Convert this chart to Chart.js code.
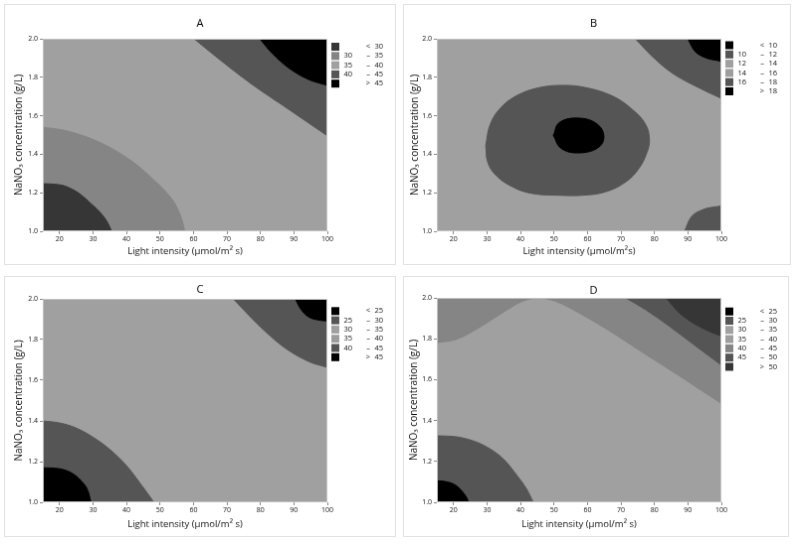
<!DOCTYPE html>
<html>
<head>
<meta charset="utf-8">
<script src="https://cdn.jsdelivr.net/npm/chart.js@4.4.0/dist/chart.umd.min.js"></script>
<style>
  body { margin: 0; background: #fff; width: 797px; height: 544px; position: relative; overflow: hidden; }
  canvas { position: absolute; border: 1px solid #e2e2e2; }
</style>
</head>
<body>
<canvas id="cA" width="392" height="261" style="left:4px;top:4px"></canvas>
<canvas id="cB" width="388" height="261" style="left:403px;top:4px"></canvas>
<canvas id="cC" width="392" height="261" style="left:4px;top:276px"></canvas>
<canvas id="cD" width="386" height="261" style="left:403px;top:276px"></canvas>
<script>
// axes
const xTicks = [20, 30, 40, 50, 60, 70, 80, 90, 100];
const yTicks = [1.0, 1.2, 1.4, 1.6, 1.8, 2.0];
const xRange = [15, 100];
const yRange = [1.0, 2.0];

// contour boundaries, [light intensity, NaNO3]
// A
const a30 = [[15,1.247],[18,1.245],[21,1.238],[23,1.225],[26,1.195],[29,1.15],[32,1.1],[34.2,1.05],[35.6,1.0]];
const a35 = [[15,1.54],[22,1.522],[32,1.462],[42,1.359],[48.8,1.256],[52.5,1.19],[54.7,1.136],[56.7,1.05],[57.4,1.0]];
const a40 = [[60.2,2.0],[66.6,1.909],[77.5,1.763],[88.4,1.634],[100,1.496]];
const a45 = [[79.8,2.0],[83.4,1.926],[88.4,1.849],[94.3,1.789],[100,1.758]];
// B
const b16ring = [[29.6,1.445],[30.8,1.548],[33.7,1.634],[38.7,1.703],[45.6,1.746],[53.0,1.758],[59.5,1.746],[67.4,1.703],
  [73.3,1.634],[77.3,1.557],[78.5,1.479],[77.8,1.411],[75.3,1.325],[71.4,1.256],[65.4,1.205],[58.5,1.187],[51.6,1.187],
  [43.6,1.196],[37.7,1.23],[32.7,1.29],[30.2,1.359],[29.6,1.445]];
const b18core = [[49.8,1.498],[51.6,1.565],[57.5,1.588],[62.9,1.557],[64.9,1.496],[63.4,1.437],[57.5,1.407],[52.1,1.431],[49.8,1.498]];
const b16top = [[74.3,2.0],[79.3,1.909],[85.2,1.823],[93.2,1.746],[100,1.69]];
const b18top = [[90.0,2.0],[91.7,1.943],[94.6,1.906],[100,1.883]];
const b16low = [[89.0,1.0],[90.7,1.067],[94.1,1.11],[100,1.132]];
// C
const c30 = [[15,1.40],[20,1.39],[25,1.365],[30,1.32],[35,1.26],[40,1.18],[44,1.095],[48.2,1.0]];
const c25 = [[15,1.17],[20,1.165],[23.5,1.145],[26.5,1.105],[28.5,1.055],[29.4,1.0]];
const c40 = [[71.9,2.0],[76.5,1.92],[81.5,1.839],[87.4,1.758],[94.3,1.693],[100,1.663]];
const c45 = [[90.4,2.0],[91.9,1.953],[94.3,1.912],[97.3,1.896],[100,1.891]];
// D
const d25 = [[15,1.105],[18,1.1],[20.5,1.085],[22.5,1.055],[24,1.02],[24.5,1.0]];
const d30 = [[15,1.325],[20,1.322],[25,1.305],[30,1.27],[35,1.21],[39,1.13],[42,1.06],[43.8,1.0]];
const d40 = [[15,1.781],[20.8,1.797],[27.6,1.854],[34.6,1.927],[40.5,1.983],[45.5,2.0],[50.5,1.983],[57.4,1.927],
  [67.4,1.83],[77.3,1.724],[87.4,1.619],[93.4,1.554],[100,1.484]];
const d45 = [[71.4,2.0],[77.3,1.943],[84.4,1.862],[92.3,1.765],[100,1.671]];
const d50 = [[83.5,2.0],[87.4,1.927],[92.3,1.87],[97.3,1.83],[100,1.813]];

// legends
const aLow = ['', '30', '35', '40', ''];
const aHigh = ['30', '35', '40', '45', '45'];
const bLow = ['', '10', '12', '14', '16', ''];
const bHigh = ['10', '12', '14', '16', '18', '18'];
const cLow = ['', '25', '30', '35', '40', ''];
const cHigh = ['25', '30', '35', '40', '45', '45'];
const dLow = ['', '25', '30', '35', '40', '45', ''];
const dHigh = ['25', '30', '35', '40', '45', '50', '50'];

const BLACK = '#000000', CHAR = '#363636', DARK = '#555555', MID = '#858585', LIGHT = '#a0a0a0', LIGHT2 = '#9d9d9d';

Chart.defaults.font.family = '"Open Sans", sans-serif';
Chart.defaults.color = '#111';

const pts = arr => arr.map(([x, y]) => ({ x, y }));

function area(arr, color, fill, order, closed) {
  return {
    data: pts(arr), showLine: true, fill: fill,
    backgroundColor: color, borderColor: color, borderWidth: 1,
    pointRadius: 0, order: order,
    tension: closed ? 0.4 : 0,
    cubicInterpolationMode: closed ? 'default' : 'monotone'
  };
}

function background() {
  return area([[xRange[0], yRange[1]], [xRange[1], yRange[1]]], LIGHT, 'start', 99, false);
}

function legendRows(low, high, colors) {
  return low.map((l, i) => ({
    low: l,
    sym: i === 0 ? '<' : (i === low.length - 1 ? '>' : '–'),
    high: high[i],
    color: colors[i]
  }));
}

function makePanel(id, p) {
  const deco = {
    id: 'deco' + id,
    afterDatasetsDraw(chart) {
      const { ctx, chartArea: ca } = chart;
      ctx.save();
      ctx.strokeStyle = '#c2c2c2';
      ctx.lineWidth = 1;
      ctx.strokeRect(ca.left + 0.5, ca.top + 0.5, ca.right - ca.left - 1, ca.bottom - ca.top - 1);
      ctx.restore();
    },
    afterDraw(chart) {
      const { ctx, chartArea: ca } = chart;
      ctx.save();
      ctx.fillStyle = '#000';
      ctx.font = '11px "Open Sans", sans-serif';
      ctx.textAlign = 'center';
      ctx.textBaseline = 'middle';
      ctx.fillText(p.title, p.titleX, p.titleY);

      ctx.font = '7.5px "Open Sans", sans-serif';
      p.legend.forEach((r, i) => {
        const cy = ca.top + p.legTop + i * 9.3;
        ctx.fillStyle = r.color;
        ctx.fillRect(ca.right + 4, cy - 4, 8, 8);
        ctx.fillStyle = '#111';
        ctx.textAlign = 'left';
        if (r.low) ctx.fillText(r.low, ca.right + 16.5, cy);
        ctx.textAlign = 'center';
        ctx.fillText(r.sym, ca.right + 41, cy);
        ctx.textAlign = 'left';
        ctx.fillText(r.high, ca.right + 47.5, cy);
      });
      ctx.restore();
    }
  };

  new Chart(document.getElementById(id), {
    type: 'scatter',
    data: { datasets: p.datasets },
    options: {
      responsive: false,
      animation: false,
      events: [],
      layout: { padding: { top: p.pt, right: p.pr, left: 0, bottom: 0 } },
      plugins: { legend: { display: false }, tooltip: { enabled: false } },
      scales: {
        x: {
          type: 'linear', min: xRange[0], max: xRange[1],
          afterBuildTicks: s => { s.ticks = xTicks.map(v => ({ value: v })); },
          afterFit: s => { s.height = p.xh; },
          ticks: { font: { size: 7 }, color: '#111', padding: 1, autoSkip: false, maxRotation: 0 },
          grid: { drawOnChartArea: false, tickLength: 3, color: '#888' },
          border: { display: false },
          title: { display: true, text: p.xTitle, font: { size: 9.5 }, color: '#111', padding: { top: 0, bottom: p.xTitlePad } }
        },
        y: {
          type: 'linear', min: yRange[0], max: yRange[1],
          afterBuildTicks: s => { s.ticks = yTicks.map(v => ({ value: v })); },
          afterFit: s => { s.width = p.yw; },
          ticks: { font: { size: 7 }, color: '#111', padding: 2, autoSkip: false, callback: v => v.toFixed(1) },
          grid: { drawOnChartArea: false, tickLength: 3, color: '#888' },
          border: { display: false },
          title: { display: true, text: 'NaNO₃ concentration (g/L)', font: { size: 10 }, color: '#111', padding: { top: p.yTitlePad, bottom: 0 } }
        }
      }
    },
    plugins: [deco]
  });
}

makePanel('cA', {
  title: 'A', titleX: 196, titleY: 18.5,
  pt: 34, pr: 68, yw: 38, xh: 33, xTitlePad: 7, yTitlePad: 8,
  xTitle: 'Light intensity (µmol/m² s)',
  legTop: 8,
  legend: legendRows(aLow, aHigh, [CHAR, MID, LIGHT, DARK, BLACK]),
  datasets: [
    area(a45, BLACK, 'end', 1),
    area(a40, DARK, 'end', 2),
    area(a30, CHAR, 'start', 1),
    area(a35, MID, 'start', 2),
    background()
  ]
});

makePanel('cB', {
  title: 'B', titleX: 190.5, titleY: 18.5,
  pt: 34, pr: 69, yw: 33, xh: 33, xTitlePad: 7, yTitlePad: 5,
  xTitle: 'Light intensity (µmol/m²s)',
  legTop: 6.5,
  legend: legendRows(bLow, bHigh, [BLACK, DARK, LIGHT, LIGHT2, DARK, BLACK]),
  datasets: [
    area(b18core, BLACK, 'shape', 1, true),
    area(b16ring, DARK, 'shape', 2, true),
    area(b18top, BLACK, 'end', 1),
    area(b16top, DARK, 'end', 2),
    area(b16low, DARK, 'start', 2),
    background()
  ]
});

makePanel('cC', {
  title: 'C', titleX: 196, titleY: 12.5,
  pt: 22, pr: 68, yw: 38, xh: 34, xTitlePad: 6.5, yTitlePad: 8,
  xTitle: 'Light intensity (µmol/m² s)',
  legTop: 12.3,
  legend: legendRows(cLow, cHigh, [BLACK, DARK, LIGHT, LIGHT2, DARK, BLACK]),
  datasets: [
    area(c45, BLACK, 'end', 1),
    area(c40, DARK, 'end', 2),
    area(c25, BLACK, 'start', 1),
    area(c30, DARK, 'start', 2),
    background()
  ]
});

makePanel('cD', {
  title: 'D', titleX: 190.5, titleY: 13.5,
  pt: 21, pr: 67, yw: 33, xh: 34, xTitlePad: 6.5, yTitlePad: 4,
  xTitle: 'Light intensity (µmol/m² s)',
  legTop: 13.7,
  legend: legendRows(dLow, dHigh, [BLACK, DARK, LIGHT, LIGHT2, MID, DARK, CHAR]),
  datasets: [
    area(d50, CHAR, 'end', 1),
    area(d45, DARK, 'end', 2),
    area(d40, MID, 'end', 3),
    area(d25, BLACK, 'start', 1),
    area(d30, DARK, 'start', 2),
    background()
  ]
});
</script>
</body>
</html>
